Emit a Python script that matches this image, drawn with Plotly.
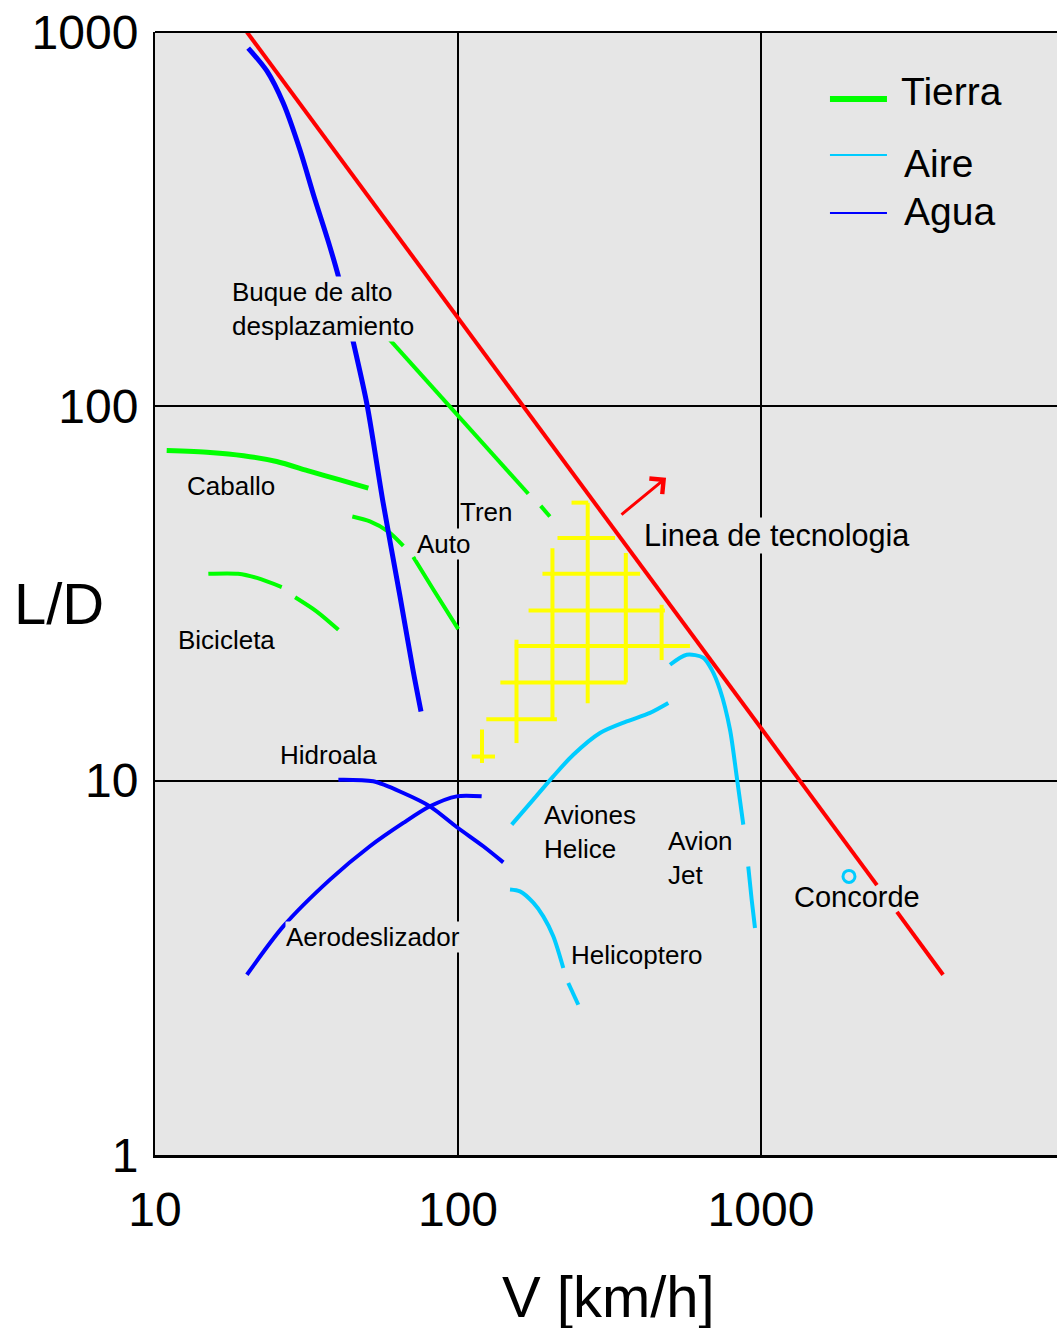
import numpy as np
import plotly.graph_objects as go

# ---------------- data: speed V [km/h] vs lift/drag ratio L/D ----------------
# technology frontier (interrupted where the Concorde label sits)
tech_v = [20.1, 2414, None, 2811, 3990]
tech_ld = [1000, 5.26, None, 4.46, 3.03]

# water (Agua)
ship_v = [20.3, 23.4, 26.5, 30.1, 33.5, 37.2, 40.2, 45.0, 50.1, 56.6, 64.4, 71.0, 75.5]
ship_ld = [906, 787, 646, 484, 363, 278, 224, 150, 101, 55.3, 31.0, 19.8, 15.3]

hydrofoil_v = [40.3, 52.5, 66.0, 80.8, 99.0, 121.2, 141.1]
hydrofoil_ld = [10.06, 9.96, 9.27, 8.54, 7.52, 6.68, 6.05]

hovercraft_v = [20.1, 26.5, 37.8, 51.2, 66.0, 80.8, 99.0, 119.7]
hovercraft_ld = [3.03, 4.08, 5.44, 6.68, 7.71, 8.54, 9.08, 9.08]

# land (Tierra)
horse_v = [10.93, 15.2, 19.6, 25.2, 32.5, 40.8, 50.6]
horse_ld = [76.2, 75.3, 73.8, 71.2, 67.0, 63.6, 60.5]

bicycle_v = [15.0, 18.8, 21.7, 26.2, None, 29.0, 34.2, 40.3]
bicycle_ld = [35.7, 35.7, 34.8, 32.9, None, 30.9, 28.3, 25.3]

car_v = [44.8, 51.2, 58.9, 66.0, None, 71.2, 82.9, 100.2]
car_ld = [50.8, 49.3, 46.3, 42.4, None, 39.6, 32.4, 25.4]

train_v = [59.6, 92.7, 170.6, None, 187.5, 201]
train_ld = [150.5, 101, 58.4, None, 54.2, 50.8]

# air (Aire)
prop_v = [150.4, 177.2, 206.3, 240.2, 294.2, 360.5, 430.3, 494.4]
prop_ld = [7.63, 8.9, 10.27, 11.73, 13.41, 14.4, 15.17, 16.12]

jet_v = [500.9, 568.6, 645, 687.6, 732.3, 790, 831.3, 874.3, None, 907.8, 931.7, 955.5]
jet_ld = [20.4, 21.7, 21.3, 19.8, 17.5, 13.7, 10.27, 7.63, None, 5.9, 4.81, 4.04]

heli_v = [148.5, 160.2, 177.2, 191.2, 206.3, 222.6, None, 231.2, 249.5]
heli_ld = [5.12, 5.06, 4.72, 4.34, 3.84, 3.16, None, 2.88, 2.52]

concorde_v = [1952]
concorde_ld = [5.55]

# hatched zone below the technology line
hatch_row_ld = [55.3, 44.5, 35.7, 28.5, 22.9, 18.3, 14.6, 11.6]
hatch_row_v_start = [237, 213, 190, 171, 154, 138, 124, 111]
hatch_row_v_end = [269, 330, 399, 482, 583, 360, 212, 132.5]
hatch_col_v = [268, 205, 358, 470, 156, 120]
hatch_col_ld_top = [55.3, 41.8, 40.6, 29.5, 23.8, 13.7]
hatch_col_ld_bottom = [16.1, 14.6, 18.3, 21.0, 12.6, 11.15]

# arrow showing the technology trend
trend_from = (342.5, 51.0)
trend_to = (486.0, 64.4)

# axis ticks
x_ticks = [10, 100, 1000]
y_ticks = [1, 10, 100, 1000]

# ---------------- styling ----------------
FONT = "Liberation Sans, Arial, sans-serif"
PLOT_BG = "#e6e6e6"
GREEN = "#00ff00"
CYAN = "#00ccff"
BLUE = "#0000ff"
RED = "#ff0000"
YELLOW = "#ffff00"

fig = go.Figure()


def add_curve(v, ld, color, width, shape="spline"):
    fig.add_trace(go.Scatter(
        x=v, y=ld, mode="lines", connectgaps=False,
        line=dict(color=color, width=width, shape=shape, smoothing=0.8),
        showlegend=False, hoverinfo="skip"))


# hatched zone as a single trace of separate segments
hx, hy = [], []
for ld, v0, v1 in zip(hatch_row_ld, hatch_row_v_start, hatch_row_v_end):
    hx += [v0, v1, None]
    hy += [ld, ld, None]
for v, l0, l1 in zip(hatch_col_v, hatch_col_ld_top, hatch_col_ld_bottom):
    hx += [v, v, None]
    hy += [l0, l1, None]
add_curve(hx, hy, YELLOW, 4, shape="linear")

add_curve(horse_v, horse_ld, GREEN, 5)
add_curve(bicycle_v, bicycle_ld, GREEN, 4)
add_curve(car_v, car_ld, GREEN, 4)
add_curve(train_v, train_ld, GREEN, 4, shape="linear")

add_curve(ship_v, ship_ld, BLUE, 5)
add_curve(hydrofoil_v, hydrofoil_ld, BLUE, 4)
add_curve(hovercraft_v, hovercraft_ld, BLUE, 4)

add_curve(prop_v, prop_ld, CYAN, 4)
add_curve(jet_v, jet_ld, CYAN, 4)
add_curve(heli_v, heli_ld, CYAN, 4)

add_curve(tech_v, tech_ld, RED, 4, shape="linear")

fig.add_trace(go.Scatter(
    x=concorde_v, y=concorde_ld, mode="markers",
    marker=dict(symbol="circle-open", size=12, color=CYAN, line=dict(width=3, color=CYAN)),
    showlegend=False, hoverinfo="skip"))

# trend arrow (log axes take log10 positions for annotations)
fig.add_annotation(
    x=np.log10(trend_to[0]), y=np.log10(trend_to[1]),
    ax=np.log10(trend_from[0]), ay=np.log10(trend_from[1]),
    axref="x", ayref="y", xref="x", yref="y", text="",
    showarrow=True, arrowhead=4, arrowsize=1.3, arrowwidth=3, arrowcolor=RED)

# curve labels: (text, V, L/D, font size, opaque background)
labels = [
    ("Buque de alto<br>desplazamiento", 17.8, 182, 26, True),
    ("Caballo", 12.7, 61.3, 26, True),
    ("Bicicleta", 11.8, 23.8, 26, True),
    ("Tren", 100.8, 52.3, 26, True),
    ("Auto", 72.7, 42.9, 26, True),
    ("Hidroala", 25.7, 11.7, 26, True),
    ("Aerodeslizador", 26.9, 3.83, 26, True),
    ("Aviones<br>Helice", 190.8, 7.31, 26, True),
    ("Avion<br>Jet", 489.7, 6.23, 26, True),
    ("Helicoptero", 234.2, 3.43, 26, True),
    ("Concorde", 1275, 4.90, 29, False),
    ("Linea de tecnologia", 408, 45.1, 30.6, True),
]
for text, v, ld, size, opaque in labels:
    fig.add_annotation(
        x=np.log10(v), y=np.log10(ld), xref="x", yref="y", text=text,
        showarrow=False, xanchor="left", yanchor="middle", align="left",
        font=dict(family=FONT, size=size, color="black"),
        bgcolor=PLOT_BG if opaque else "rgba(0,0,0,0)", borderpad=0)

# legend drawn inside the plot area
legend_items = [
    ("Tierra", GREEN, 6, 0.9403, 0.9466, 0.8248),
    ("Aire", CYAN, 2, 0.8905, 0.8825, 0.8282),
    ("Agua", BLUE, 2, 0.8388, 0.8398, 0.8282),
]
for name, color, width, line_y, text_y, text_x in legend_items:
    fig.add_shape(type="line", xref="paper", yref="paper",
                  x0=0.7483, x1=0.8115, y0=line_y, y1=line_y,
                  line=dict(color=color, width=width))
    fig.add_annotation(x=text_x, y=text_y, xref="paper", yref="paper",
                       text=name, showarrow=False, xanchor="left", yanchor="middle",
                       font=dict(family=FONT, size=39, color="black"))

# top border
fig.add_shape(type="line", xref="paper", yref="paper", x0=0, x1=1, y0=1, y1=1,
              line=dict(color="black", width=2))

# axis titles
fig.add_annotation(x=-0.1585, y=0.4907, xref="paper", yref="paper", text="L/D",
                   showarrow=False, xanchor="left", yanchor="middle",
                   font=dict(family=FONT, size=58, color="black"))
fig.add_annotation(x=0.5033, y=-0.1264, xref="paper", yref="paper", text="V [km/h]",
                   showarrow=False, xanchor="center", yanchor="middle",
                   font=dict(family=FONT, size=58, color="black"))

fig.update_xaxes(
    type="log", range=[1, 3.977], tickvals=x_ticks, ticktext=[str(t) for t in x_ticks],
    showgrid=True, gridcolor="black", gridwidth=2, zeroline=False,
    showline=True, linecolor="black", linewidth=3, ticks="",
    tickfont=dict(family=FONT, size=48, color="black"), ticklabelstandoff=10)
fig.update_yaxes(
    type="log", range=[0, 3], tickvals=y_ticks, ticktext=[str(t) for t in y_ticks],
    showgrid=True, gridcolor="black", gridwidth=2, zeroline=False,
    showline=True, linecolor="black", linewidth=2, ticks="",
    tickfont=dict(family=FONT, size=48, color="black"), ticklabelstandoff=5)

fig.update_layout(
    width=1057, height=1328,
    margin=dict(l=155, r=0, t=32, b=173),
    plot_bgcolor=PLOT_BG, paper_bgcolor="white",
    showlegend=False, hovermode=False)

fig.write_html("out.html")
